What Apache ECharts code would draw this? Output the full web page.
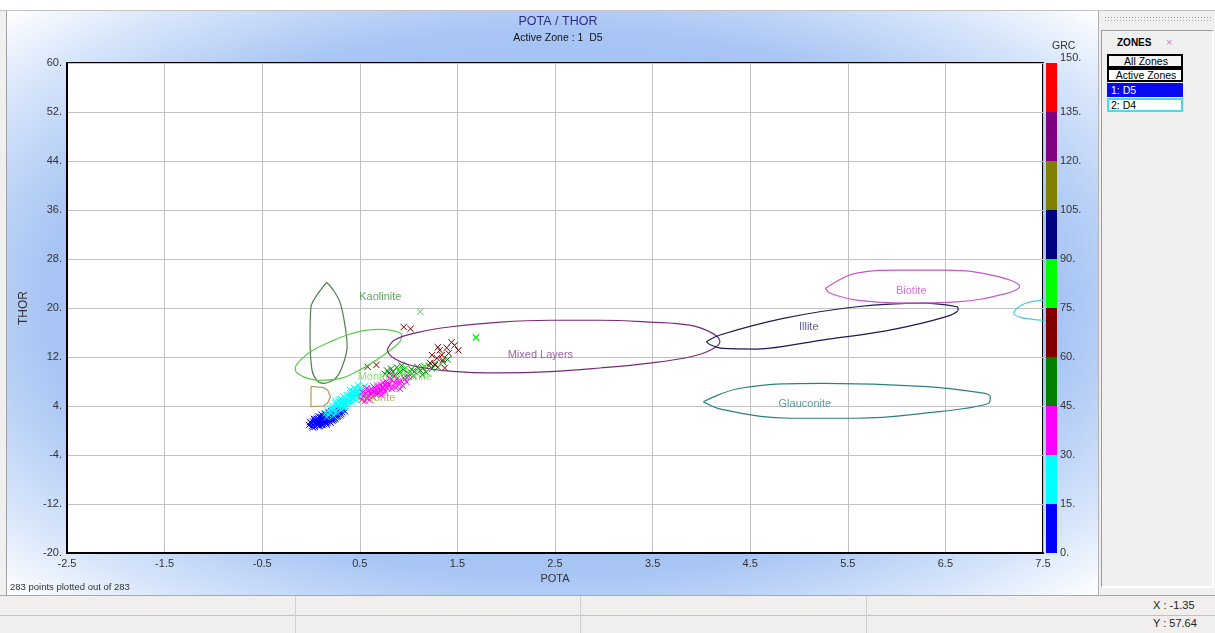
<!DOCTYPE html>
<html>
<head>
<meta charset="utf-8">
<title>POTA / THOR</title>
<script src="https://cdn.jsdelivr.net/npm/echarts@6/dist/echarts.min.js"></script>
<style>
  html, body { margin:0; padding:0; width:1215px; height:633px; overflow:hidden; background:#f0f0f0;
    font-family:"Liberation Sans", Arial, sans-serif; }
  #topstrip { position:absolute; left:0; top:0; width:1215px; height:10px; background:#ffffff; border-bottom:1px solid #c4c4c4; }
  #panel { position:absolute; left:6px; top:11px; width:1092px; height:584px;
    border-left:1px solid #a0a0a0;
    background:radial-gradient(ellipse farthest-corner at 50% 50%, #8fb4ef 0%, #a8c5f4 66%, #d8e6fb 86%, #ffffff 100%); }
  #chart { position:absolute; left:0; top:0; width:1215px; height:633px; z-index:2; }
  #side { position:absolute; left:1098px; top:11px; width:117px; height:584px; background:#f0f0f0; border-left:1px solid #b0b0b0; }
  #dots { position:absolute; left:1104px; top:16px; width:108px; height:7px;
    background-image:radial-gradient(#a8a8a8 0.7px, transparent 0.9px); background-size:3px 3px; }
  #zonebox { position:absolute; left:1101px; top:30px; width:110px; height:555px;
    border-style:solid; border-width:1px 2px 2px 1px; border-color:#9a9a9a #ffffff #ffffff #9a9a9a; }
  .zt { position:absolute; font-size:10.5px; color:#000; white-space:nowrap; }
  .btn { position:absolute; left:1107px; width:70px; height:10px; line-height:10px; font-size:10.5px; padding:0 0 0 2px; }
  #status { position:absolute; left:0; top:595px; width:1215px; height:38px; background:#f0efee; border-top:1px solid #a8a8a8; z-index:3; }
  .row2 { position:absolute; left:0; top:19px; width:1215px; height:0; border-top:1px solid #c0c0c0; }
  .sep { position:absolute; top:0; width:1px; height:38px; background:#d0d0d0; }
  .coord { position:absolute; left:1153px; font-size:11px; color:#222; }
</style>
</head>
<body>
<div id="topstrip"></div>
<div id="panel"></div>
<div id="side"></div>
<div id="dots"></div>
<div id="zonebox"></div>
<div class="zt" style="left:1117px;top:37px;font-weight:bold;font-size:10px;">ZONES</div>
<div class="zt" style="left:1166px;top:36px;color:#d27ad2;font-size:11px;">&times;</div>
<div class="btn" style="top:54px;border:2px solid #000;background:#f4f4f4;text-align:center;">All Zones</div>
<div class="btn" style="top:68px;border:2px solid #000;background:#fff;text-align:center;">Active Zones</div>
<div class="btn" style="top:83px;border:2px solid #0a0af2;background:#0a0af2;color:#fff;">1: D5</div>
<div class="btn" style="top:98px;border:2px solid #3fe0e6;background:#fff;">2: D4</div>
<div id="status">
  <div class="row2"></div>
  <div class="sep" style="left:295px"></div>
  <div class="sep" style="left:580px"></div>
  <div class="sep" style="left:866px"></div>
  <div class="coord" style="top:3px">X : -1.35</div>
  <div class="coord" style="top:21px">Y : 57.64</div>
</div>
<div id="chart"></div>
<script>
// Axis tick labels
const potaTicks = ['-2.5','-1.5','-0.5','0.5','1.5','2.5','3.5','4.5','5.5','6.5','7.5'];
const thorTicks = ['-20.','-12.','-4.','4.','12.','20.','28.','36.','44.','52.','60.'];

// GRC colour scale: 15-unit bands from 0 to 150
const grcBandStarts = [0, 15, 30, 45, 60, 75, 90, 105, 120, 135];
const grcBandColors = ['#0000ff','#00ffff','#ff00ff','#008000','#800000','#00ff00','#000080','#808000','#800080','#ff0000'];

// Mineral outlines [POTA, THOR]
const kaoliniteOutline = [[0.16,24.2],[0.06,22.1],[0.00,20.2],[-0.01,15.3],[0.01,9.9],[0.06,8.2],[0.13,7.7],[0.25,8.5],[0.32,10.4],[0.37,13.7],[0.35,17.0],[0.30,20.8],[0.23,22.9],[0.16,24.2]];
const montmorilloniteOutline = [[-0.16,10.4],[-0.11,11.5],[0.02,13.1],[0.20,14.5],[0.37,15.6],[0.54,16.3],[0.71,16.5],[0.84,16.3],[0.93,15.6],[0.91,14.5],[0.81,13.1],[0.67,11.5],[0.50,9.9],[0.30,8.5],[0.09,8.2],[-0.08,8.8],[-0.16,9.9],[-0.16,10.4]];
const chloriteOutline = [[0.00,7.2],[0.13,7.0],[0.17,6.6],[0.20,5.5],[0.17,4.5],[0.13,4.0],[0.00,3.9],[0.00,7.2]];
const mixedLayersOutline = [[0.78,13.1],[0.86,14.8],[1.12,16.1],[1.42,16.9],[1.94,17.7],[2.45,18.0],[2.96,18.0],[3.47,17.7],[3.88,17.2],[4.11,15.9],[4.19,14.5],[4.09,13.1],[3.88,12.0],[3.47,11.0],[2.96,10.2],[2.45,9.6],[1.94,9.4],[1.42,9.7],[1.01,10.7],[0.83,12.0],[0.78,13.1]];
const illiteOutline = [[4.05,14.5],[4.19,15.6],[4.84,18.3],[5.59,20.2],[6.27,20.8],[6.62,20.2],[6.63,19.7],[6.51,18.6],[5.93,16.4],[5.25,14.8],[4.57,13.3],[4.22,13.4],[4.09,14.0],[4.05,14.5]];
const biotiteOutline = [[5.27,23.2],[5.59,25.7],[6.04,26.2],[6.45,26.2],[6.96,25.4],[7.26,23.5],[7.13,22.4],[6.62,21.0],[6.10,20.8],[5.59,21.3],[5.32,22.4],[5.27,23.2]];
const glauconiteOutline = [[4.02,4.7],[4.40,6.9],[5.25,7.7],[6.27,7.2],[6.89,6.1],[6.96,5.5],[6.94,4.4],[6.27,2.8],[5.59,2.0],[4.91,2.0],[4.22,3.4],[4.02,4.7]];
const d4Outline = [[7.80,21.7],[7.50,21.3],[7.37,21.0],[7.26,20.3],[7.20,19.1],[7.26,18.5],[7.37,18.2],[7.50,18.0],[7.80,17.9]];

// Mineral names and label positions
const mineralNames = ['Kaolinite','Montmorillonite','Chlorite','Mixed Layers','Illite','Biotite','Glauconite'];
const mineralLabelPos = [[0.71,21.8],[0.86,8.7],[0.67,5.3],[2.35,12.3],[5.10,16.9],[6.15,22.8],[5.06,4.3]];
const mineralColors = ['#3f8a3f','#66dd55','#a8983c','#8a3a8a','#353580','#cc4fcc','#2f8686'];

// Zone D5 samples [POTA, THOR, GRC], grouped by GRC band
const samplesGrc0to15 = [
  [-0.02,0.9,9],[0.00,1.2,10],[0.01,0.7,8],[0.02,1.5,11],[0.03,1.0,9],[0.04,0.6,7],[0.05,1.8,12],[0.05,1.3,10],[0.06,0.9,8],[0.07,2.0,13],
  [0.07,1.4,11],[0.08,1.1,9],[0.08,0.7,8],[0.09,1.7,12],[0.10,2.2,13],[0.10,1.3,10],[0.11,0.9,9],[0.11,1.9,12],[0.12,1.5,11],[0.12,2.4,14],
  [0.13,1.1,9],[0.13,2.0,12],[0.14,1.6,11],[0.14,2.7,14],[0.15,1.3,10],[0.15,2.2,13],[0.16,1.8,12],[0.16,1.0,8],[0.17,2.5,13],[0.17,1.5,11],
  [0.18,2.1,12],[0.18,2.9,14],[0.19,1.7,11],[0.19,2.4,13],[0.20,1.3,10],[0.20,2.8,14],[0.21,2.0,12],[0.21,3.1,14],[0.22,2.5,13],[0.22,1.6,11],
  [0.23,2.9,14],[0.23,2.2,12],[0.24,3.3,14],[0.24,1.9,12],[0.25,2.6,13],[0.26,3.0,14],[0.26,2.2,12],[0.27,2.7,13],[0.28,3.2,14],[0.28,2.4,13],
  [0.29,2.9,14],[0.30,3.3,14],[0.31,2.7,13],[-0.01,1.4,10],[0.02,0.5,6],[0.04,1.6,11],[0.06,1.9,12],[0.09,0.8,8],[0.10,1.6,11],[0.12,1.0,9],
  [0.14,2.0,12],[0.15,2.6,13],[0.17,1.2,9],[0.18,1.8,11],[0.19,3.0,14],[0.21,1.7,11],[0.23,2.6,13],[0.25,2.0,12],[0.27,3.1,14],[0.30,2.5,13],
  [0.03,1.9,12],[0.08,2.3,13],[0.11,2.6,13],[0.13,1.8,11],[0.16,2.4,13],[0.20,2.3,12],[0.24,2.8,13],[0.26,3.5,14],[0.32,3.0,14],[0.01,1.1,9],
  [0.07,0.9,8],[0.09,2.1,12],[0.22,3.2,14],[0.33,3.4,14],[0.35,3.1,14],[0.04,1.2,10],[0.06,1.5,11],[0.10,1.0,9],[0.12,2.1,12],[0.15,1.7,11],
  [0.18,2.5,13],[0.20,1.9,12],[0.23,1.8,12],[0.27,2.3,13],[0.29,3.5,14]
];
const samplesGrc15to30 = [
  [0.15,2.8,16],[0.17,3.3,17],[0.18,2.6,16],[0.20,3.6,18],[0.21,2.9,17],[0.22,4.0,19],[0.23,3.3,18],[0.24,3.8,19],[0.25,4.4,20],[0.26,3.2,17],
  [0.27,4.1,20],[0.28,4.8,21],[0.29,3.7,19],[0.30,4.4,21],[0.31,5.1,22],[0.32,4.0,20],[0.33,4.7,22],[0.34,5.4,23],[0.35,4.3,21],[0.36,5.0,23],
  [0.37,5.8,24],[0.38,4.6,22],[0.39,5.4,24],[0.40,6.1,25],[0.41,5.0,23],[0.42,5.7,25],[0.43,6.4,26],[0.44,5.3,24],[0.45,6.0,26],[0.46,6.8,27],
  [0.47,5.6,25],[0.48,6.3,27],[0.50,6.9,28],[0.51,5.9,26],[0.53,6.6,28],[0.55,7.2,29],[0.19,3.0,17],[0.21,3.5,18],[0.24,3.0,17],[0.26,3.9,19],
  [0.28,3.5,18],[0.30,3.9,20],[0.32,4.6,21],[0.34,4.9,22],[0.36,4.4,21],[0.37,5.2,23],[0.39,4.8,22],[0.41,5.5,24],[0.43,5.1,23],[0.45,5.6,25],
  [0.47,6.3,26],[0.49,6.0,26],[0.52,6.4,27],[0.27,2.9,16],[0.31,3.4,18],[0.35,3.8,19],[0.38,4.1,20],[0.42,4.6,21],[0.46,5.0,23],[0.50,5.4,24],
  [0.33,5.6,24],[0.40,6.6,26],[0.44,7.0,28],[0.29,5.0,22],[0.25,4.8,21],[0.48,7.4,29],[0.56,6.2,27],[0.58,6.8,28],[0.23,2.4,16],[0.16,2.2,15],
  [0.22,3.7,19],[0.28,4.2,20],[0.33,4.2,21],[0.38,5.6,24],[0.41,6.0,25],[0.46,6.1,26],[0.51,6.7,28],[0.54,5.8,26]
];
const samplesGrc30to45 = [
  [0.52,5.0,31],[0.54,5.6,32],[0.55,4.8,31],[0.56,6.0,33],[0.57,5.3,32],[0.58,6.4,34],[0.59,5.7,33],[0.60,5.0,31],[0.61,6.2,34],[0.62,6.8,35],
  [0.63,5.5,32],[0.64,6.4,35],[0.65,7.0,36],[0.66,5.9,33],[0.67,6.6,35],[0.68,7.3,37],[0.69,6.1,34],[0.70,6.9,36],[0.71,7.5,38],[0.72,6.4,35],
  [0.73,7.1,37],[0.74,7.8,39],[0.75,6.7,36],[0.76,7.4,38],[0.77,8.0,40],[0.78,6.9,37],[0.80,7.6,39],[0.82,8.2,41],[0.84,7.2,38],[0.86,7.8,40],
  [0.88,8.4,42],[0.90,7.5,39],[0.92,8.1,41],[0.95,8.6,43],[0.98,7.9,42],[1.00,8.8,44],[0.58,5.2,32],[0.62,5.9,33],[0.66,6.3,34],[0.70,6.5,35],
  [0.74,7.0,37],[0.79,7.3,38],[0.83,6.8,38],[0.87,7.0,39],[0.91,6.8,40],[0.94,7.3,41],[0.60,6.6,34],[0.64,7.2,36],[0.68,6.0,34],[0.72,5.8,34],
  [0.76,6.3,36],[0.81,8.6,42],[0.85,8.9,43],[0.53,6.2,33],[0.57,6.9,35],[0.78,7.7,39],[0.89,8.0,41],[0.96,8.3,42]
];
const samplesGrc45to60 = [
  [0.76,9.2,47],[0.78,9.8,48],[0.80,9.4,49],[0.82,10.1,50],[0.84,9.6,51],[0.86,9.0,52],[0.88,10.3,50],[0.91,9.5,53],[0.95,9.9,54],[1.00,9.3,55],
  [1.03,10.0,52],[1.06,9.6,56],[1.09,10.4,57],[1.12,9.8,55],[1.15,10.2,58],[1.18,9.5,56],[1.21,10.6,57],[1.24,10.1,58],[1.27,10.9,59],[1.30,10.3,55],
  [1.14,9.1,53],[0.93,10.6,54],[0.98,8.7,51],[1.05,8.9,54],[1.35,11.2,58],[1.40,11.6,59]
];
const samplesGrc60to75 = [
  [0.95,16.9,66],[1.02,16.6,64],[0.58,10.4,61],[0.67,10.7,62],[1.32,13.1,63],[1.39,13.5,64],[1.34,12.3,62],[1.29,11.8,61],[1.35,11.5,62],
  [1.44,14.4,72],[1.51,13.1,73],[1.27,10.7,61],[1.37,10.2,60],[1.24,12.3,63],[1.41,12.6,65],[1.30,13.6,64],[1.47,13.9,70],[1.22,11.0,61]
];
const samplesGrc75to90 = [
  [1.12,19.4,80],[1.69,15.3,82],[1.69,15.1,84],[1.02,9.6,78],[1.10,10.0,79],[0.97,10.2,77],[1.16,10.5,81],[0.90,9.8,76]
];

const allSamples = [].concat(samplesGrc0to15, samplesGrc15to30, samplesGrc30to45,
  samplesGrc45to60, samplesGrc60to75, samplesGrc75to90);

function bandColor(g) {
  let idx = 0;
  for (let i = 0; i < grcBandStarts.length; i++) if (g >= grcBandStarts[i]) idx = i;
  return grcBandColors[idx];
}

const chart = echarts.init(document.getElementById('chart'), null, { renderer: 'canvas' });

const outlines = [
  { data: kaoliniteOutline, color: '#4f7f4f', smooth: 0.3 },
  { data: montmorilloniteOutline, color: '#58cc4a', smooth: 0.4 },
  { data: chloriteOutline, color: '#b0985a', smooth: false },
  { data: mixedLayersOutline, color: '#7a2a78', smooth: 0.4 },
  { data: illiteOutline, color: '#1c1c50', smooth: 0.3 },
  { data: biotiteOutline, color: '#cc55cc', smooth: 0.4 },
  { data: glauconiteOutline, color: '#2e7f80', smooth: 0.4 },
  { data: d4Outline, color: '#45cde0', smooth: 0.4 }
];

const series = [];
outlines.forEach(o => {
  series.push({
    type: 'line', xAxisIndex: 1, yAxisIndex: 1, data: o.data, smooth: o.smooth,
    symbol: 'none', clip: true, silent: true,
    lineStyle: { color: o.color, width: 1.2 }
  });
});

// mineral names placed at their positions
series.push({
  type: 'scatter', xAxisIndex: 1, yAxisIndex: 1, symbolSize: 1, silent: true,
  itemStyle: { color: 'rgba(0,0,0,0)' },
  data: mineralNames.map((n, i) => ({
    name: n, value: mineralLabelPos[i],
    label: { show: true, position: 'inside', formatter: n, color: mineralColors[i],
      fontSize: 11, fontFamily: 'Liberation Sans, Arial, sans-serif' }
  }))
});

// sample crosses, coloured by GRC band
series.push({
  type: 'custom', xAxisIndex: 1, yAxisIndex: 1, data: allSamples, clip: true, silent: true,
  encode: { x: 0, y: 1 },
  renderItem: function (params, api) {
    const p = api.coord([api.value(0), api.value(1)]);
    const c = bandColor(api.value(2));
    const s = 3.2;
    return {
      type: 'group',
      children: [
        { type: 'line', shape: { x1: p[0] - s, y1: p[1] - s, x2: p[0] + s, y2: p[1] + s }, style: { stroke: c, lineWidth: 1 } },
        { type: 'line', shape: { x1: p[0] - s, y1: p[1] + s, x2: p[0] + s, y2: p[1] - s }, style: { stroke: c, lineWidth: 1 } }
      ]
    };
  }
});

// GRC colour bar as stacked bands
grcBandStarts.forEach((start, i) => {
  series.push({
    type: 'bar', xAxisIndex: 2, yAxisIndex: 2, stack: 'grc', barWidth: '100%', silent: true,
    data: [15], itemStyle: { color: grcBandColors[i] }
  });
});

const axisText = { color: '#333', fontSize: 11, fontFamily: 'Liberation Sans, Arial, sans-serif' };

chart.setOption({
  animation: false,
  backgroundColor: 'transparent',
  title: {
    text: 'POTA / THOR', subtext: 'Active Zone : 1  D5',
    left: 553, top: 10, textAlign: 'center', itemGap: 5,
    textStyle: { color: '#2c2c88', fontSize: 12.5, fontWeight: 'normal', fontFamily: 'Liberation Sans, Arial, sans-serif' },
    subtextStyle: { color: '#111', fontSize: 10.5, fontFamily: 'Liberation Sans, Arial, sans-serif' }
  },
  grid: [
    { left: 67, top: 63, width: 976, height: 490, show: true, backgroundColor: '#ffffff', borderColor: '#000', borderWidth: 2 },
    { left: 1046, top: 63, width: 11, height: 490, show: false }
  ],
  xAxis: [
    { gridIndex: 0, type: 'category', data: potaTicks, boundaryGap: false, position: 'bottom',
      axisLine: { show: true, onZero: false, lineStyle: { color: '#000', width: 2 } }, axisTick: { show: false },
      axisLabel: Object.assign({ interval: 0, margin: 5 }, axisText),
      splitLine: { show: true, interval: 0, lineStyle: { color: '#c2c2c2', width: 1 } },
      name: 'POTA', nameLocation: 'middle', nameGap: 20, nameTextStyle: axisText },
    { gridIndex: 0, type: 'value', min: -2.5, max: 7.5, show: false },
    { gridIndex: 1, type: 'category', data: ['GRC'], show: false }
  ],
  yAxis: [
    { gridIndex: 0, type: 'category', data: thorTicks, boundaryGap: false, position: 'left',
      axisLine: { show: true, onZero: false, lineStyle: { color: '#000', width: 2 } }, axisTick: { show: false },
      axisLabel: Object.assign({ interval: 0, margin: 5 }, axisText),
      splitLine: { show: true, interval: 0, lineStyle: { color: '#c2c2c2', width: 1 } },
      name: 'THOR', nameLocation: 'middle', nameGap: 37, nameRotate: 90,
      nameTextStyle: { color: '#333', fontSize: 12, fontFamily: 'Liberation Sans, Arial, sans-serif' } },
    { gridIndex: 0, type: 'value', min: -20, max: 60, show: false },
    { gridIndex: 1, type: 'value', min: 0, max: 150, interval: 15, position: 'right',
      axisLine: { show: false }, axisTick: { show: false }, splitLine: { show: false },
      axisLabel: Object.assign({ margin: 3, formatter: v => v + '.', verticalAlignMaxLabel: 'bottom' }, axisText) }
  ],
  graphic: [
    { type: 'text', left: 1052, top: 41, style: { text: 'GRC', fill: '#333', fontSize: 10.5, fontFamily: 'Liberation Sans, Arial, sans-serif' } },
    { type: 'text', left: 10, top: 582, style: { text: '283 points plotted out of 283', fill: '#333', fontSize: 9.5, fontFamily: 'Liberation Sans, Arial, sans-serif' } }
  ],
  series: series
});
</script>
</body>
</html>
